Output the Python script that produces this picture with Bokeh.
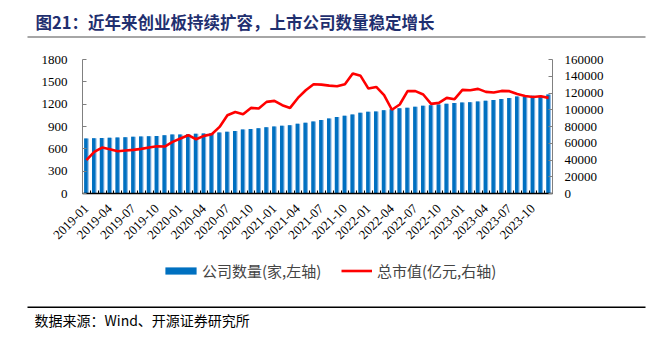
import math
from bokeh.plotting import figure
from bokeh.layouts import column
from bokeh.models import (Range1d, LinearAxis, FixedTicker, Label, BoxAnnotation,
                          Legend, LegendItem, ColumnDataSource, BasicTickFormatter)
from bokeh.transform import dodge
from bokeh.embed import file_html
from bokeh.resources import INLINE

months = [f"{y}-{m:02d}" for y in range(2019, 2024) for m in range(1, 13)]
tick_labels = ["2019-01", "2019-04", "2019-07", "2019-10", "2020-01", "2020-04",
               "2020-07", "2020-10", "2021-01", "2021-04", "2021-07", "2021-10",
               "2022-01", "2022-04", "2022-07", "2022-10", "2023-01", "2023-04",
               "2023-07", "2023-10"]

companies = [739, 742, 746, 750, 753, 757, 761, 764, 768, 773, 781, 791,
             794, 797, 802, 806, 810, 819, 828, 841, 859, 868, 875, 889,
             900, 911, 918, 938, 950, 967, 988, 1006, 1028, 1043, 1061, 1084,
             1097, 1102, 1118, 1131, 1146, 1152, 1166, 1178, 1187, 1196, 1207, 1217,
             1222, 1227, 1235, 1245, 1257, 1270, 1284, 1302, 1299, 1312, 1314, 1330]

market_cap = [39800, 49700, 54900, 52900, 50500, 51300, 52100, 53300, 54900, 56500, 56100, 61600,
              65700, 69600, 64800, 68800, 70800, 79500, 93500, 97400, 94700, 102200, 101500, 109400,
              110600, 105400, 102200, 114100, 123300, 130500, 130000, 128800, 128000, 130500, 143300, 140500,
              125300, 127200, 117500, 100000, 106300, 122200, 122200, 118200, 107000, 108200, 114200, 112600,
              123700, 123300, 124900, 121300, 120600, 122500, 122200, 118900, 116500, 115300, 116200, 114200]

title_text = "图21：近年来创业板持续扩容，上市公司数量稳定增长"
source_text = "数据来源：Wind、开源证券研究所"
legend_bar = "公司数量(家,左轴)"
legend_line = "总市值(亿元,右轴)"

BLUE = "#0070C0"
BLUE_LIGHT = "#7DB0E0"
RED = "#FF0000"
SERIF = "Liberation Serif"
CJK = "Noto Sans CJK SC"

idx = list(range(len(months)))
src = ColumnDataSource(dict(x=idx, month=months, n=companies, cap=market_cap))


def blank(h):
    f = figure(width=652, height=h, output_backend="svg", toolbar_location=None,
               x_range=Range1d(0, 652), y_range=Range1d(h, 0),
               x_axis_type=None, y_axis_type=None, min_border=0,
               min_border_left=0, min_border_right=0, min_border_top=0, min_border_bottom=0,
               frame_align=False)
    f.outline_line_color = None
    f.grid.visible = False
    f.background_fill_color = "white"
    f.border_fill_color = "white"
    return f


# ---- title block ----
top = blank(50)
top.add_layout(Label(x=35, y=21, text=title_text, text_font=CJK, text_font_size="16.5px",
                     text_font_style="bold", text_color="#1F2F6F", text_baseline="middle"))
top.add_layout(BoxAnnotation(left=27, right=645, top=35.4, bottom=37.4,
                             fill_color="#A6A6A6", fill_alpha=1, line_color=None))

# ---- main chart ----
p = figure(width=652, height=210, output_backend="svg", toolbar_location=None,
           x_range=Range1d(-0.5, len(months) - 0.5), y_range=Range1d(0, 1800),
           min_border_left=82, min_border_right=100, min_border_top=9, min_border_bottom=67,
           frame_align=False)
p.outline_line_color = None
p.grid.visible = False
p.background_fill_color = "white"
p.border_fill_color = "white"
p.extra_y_ranges = {"cap": Range1d(0, 160000)}

p.vbar(x="x", top="n", width=0.58, source=src, fill_color=BLUE_LIGHT, line_color=None)
p.vbar(x=dodge("x", -0.07), top="n", width=0.43, source=src, fill_color=BLUE, line_color=None)
p.line(x="x", y="cap", source=src, y_range_name="cap", line_color=RED, line_width=2.6)

xa = p.xaxis[0]
xa.ticker = FixedTicker(ticks=list(range(0, len(months), 3)),
                        minor_ticks=[i + 0.5 for i in range(-1, len(months))])
xa.major_label_overrides = {i * 3: lab for i, lab in enumerate(tick_labels)}
xa.major_label_orientation = math.pi / 4
xa.major_tick_in = 0
xa.major_tick_out = 0
xa.minor_tick_in = 3
xa.minor_tick_out = 0
xa.minor_tick_line_color = "black"
xa.axis_line_color = "black"
xa.axis_line_width = 1.3
xa.major_label_text_font = SERIF
xa.major_label_text_font_size = "13px"
xa.major_label_text_color = "black"
xa.major_label_standoff = 13

ya = p.yaxis[0]
ya.ticker = FixedTicker(ticks=list(range(0, 1801, 300)))
ya.major_tick_in = 4
ya.major_tick_out = 0
ya.minor_tick_line_color = None
ya.axis_line_color = "#808080"
ya.major_tick_line_color = "#808080"
ya.major_label_text_font = SERIF
ya.major_label_text_font_size = "13px"
ya.major_label_text_color = "black"
ya.major_label_standoff = 15

ra = LinearAxis(y_range_name="cap", ticker=FixedTicker(ticks=list(range(0, 160001, 20000))),
                formatter=BasicTickFormatter(use_scientific=False))
ra.major_tick_in = 4
ra.major_tick_out = 0
ra.minor_tick_line_color = None
ra.axis_line_color = "#808080"
ra.major_tick_line_color = "#808080"
ra.major_label_text_font = SERIF
ra.major_label_text_font_size = "13px"
ra.major_label_text_color = "black"
ra.major_label_standoff = 12
p.add_layout(ra, "right")

# ---- legend + source block ----
bot = blank(80)
# legend proxies, kept far outside the visible range
kb = bot.vbar(x=[5000], top=[1], width=1, fill_color=BLUE, line_color=None)
kl = bot.line(x=[5000, 5010], y=[1, 1], line_color=RED, line_width=2.6)
leg1 = Legend(items=[LegendItem(label=legend_bar, renderers=[kb])],
              location=(161, 59), glyph_width=39, glyph_height=9, label_height=9,
              label_standoff=2, padding=0, margin=0, border_line_color=None,
              background_fill_alpha=0, label_text_font=CJK, label_text_font_size="15px")
leg2 = Legend(items=[LegendItem(label=legend_line, renderers=[kl])],
              location=(341, 59), glyph_width=31, glyph_height=9, label_height=9,
              label_standoff=5, padding=0, margin=0, border_line_color=None,
              background_fill_alpha=0, label_text_font=CJK, label_text_font_size="15px")
bot.add_layout(leg1)
bot.add_layout(leg2)
bot.add_layout(BoxAnnotation(left=27, right=645, top=46.0, bottom=47.4,
                             fill_color="#000000", fill_alpha=1, line_color=None))
bot.add_layout(Label(x=34, y=59, text=source_text, text_font=CJK, text_font_size="14px",
                     text_color="black", text_baseline="middle"))

layout = column(top, p, bot, spacing=0)
open("out.html", "w").write(file_html(layout, INLINE))
